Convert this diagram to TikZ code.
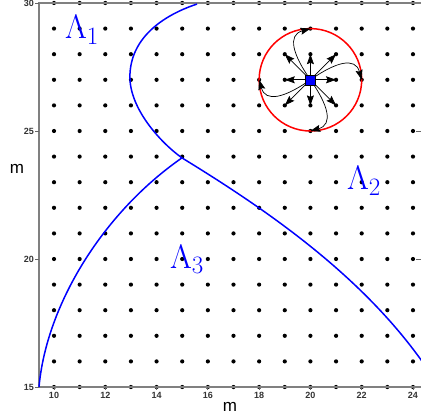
\RequirePackage{fix-cm}
\documentclass[tikz,border=0pt]{standalone}
\usepackage{fontspec}
\setsansfont{Liberation Sans}
\DeclareMathSizes{34}{34}{25}{18}
\usetikzlibrary{arrows.meta}
\begin{document}
\begin{tikzpicture}[x=25.64pt,y=25.6pt,
  axisline/.style={draw=gray,line width=1.2pt},
  tickline/.style={draw=gray!80!black,line width=0.8pt},
  gridpt/.style={fill=black},
  curve/.style={draw=blue,line width=1.5pt},
  ticklab/.style={font=\sffamily\bfseries\fontsize{9}{10}\selectfont,text=black!80,inner sep=0pt},
  unitlab/.style={font=\sffamily\fontsize{17}{20}\selectfont,inner sep=0pt},
  lamlab/.style={text=blue,font=\fontsize{34}{40}\selectfont,inner sep=0pt},
  arr/.style={-{Stealth[length=10pt,width=7pt,inset=1.5pt]},line width=0.7pt},
]
\clip (7.894,13.789) rectangle (24.313,30.117);
% grid of points
\foreach \i in {10,...,24} \foreach \j in {15,...,30} \fill[gridpt] (\i,\j) circle (2.1pt);
% axes
\draw[axisline] (24.5,30) -- (9.415,30) -- (9.415,15) -- (24.5,15);
\foreach \v in {15,20,25,30} {
  \draw[tickline] (9.415,\v) -- ++(-4pt,0);
  \node[ticklab,anchor=east] (yl\v) at (9.22,\v) {\v};
}
\foreach \v in {20,25} \draw[tickline] (24.313,\v) -- ++(-5pt,0);
\foreach \v in {10,12,...,24} {
  \draw[tickline] (\v,15) -- ++(0,-3pt);
  \node[ticklab] (xl\v) at (\v,14.69) {\v};
}
\node[unitlab] (mx) at (16.86,14.22) {m};
\node[unitlab] (my) at (8.557,23.52) {m};
% boundary curves
\coordinate (top) at (15.58,29.96);
\coordinate (lm) at (12.96,27.11);
\coordinate (x) at (14.99,23.95);
\coordinate (re) at (24.6,15.65);
\coordinate (bl) at (9.415,15);
\draw[curve] (top) .. controls (14.2,29.5) and (12.96,28.6) .. (lm)
   .. controls (12.96,25.9) and (14.09,24.6) .. (x)
   .. controls (18.5,21.8) and (22.2,19.2) .. (re);
\draw[curve] (bl) .. controls (9.7,18.2) and (11.9,21.8) .. (x);
% labels
\node[lamlab] (L1) at (11.09,28.95) {$\Lambda_1$};
\node[lamlab] (L2) at (22.09,23.05) {$\Lambda_2$};
\node[lamlab] (L3) at (15.19,20.0) {$\Lambda_3$};
% source with circle
\coordinate (c) at (20,27);
\draw[red,line width=1.5pt] (c) circle [radius=2];
\foreach \dx/\dy in {1/0,1/1,0/1,-1/1,-1/0,-1/-1,0/-1,1/-1}
  \draw[arr] (c) -- ++(\dx,\dy);
\coordinate (cR) at (22,27);
\coordinate (cT) at (20,29);
\coordinate (cL) at (18,27);
\coordinate (cB) at (20,25);
\draw[arr] (c) .. controls (21.0,27.7) and (21.75,27.9) .. (cR);
\draw[arr] (c) .. controls (19.3,28.0) and (19.1,28.75) .. (cT);
\draw[arr] (c) .. controls (19.0,26.3) and (18.25,26.1) .. (cL);
\draw[arr] (c) .. controls (20.7,26.0) and (20.9,25.25) .. (cB);
\node[draw=black,fill=blue,minimum size=10pt,inner sep=0pt,line width=0.4pt] (sq) at (c) {};
\end{tikzpicture}
\end{document}
